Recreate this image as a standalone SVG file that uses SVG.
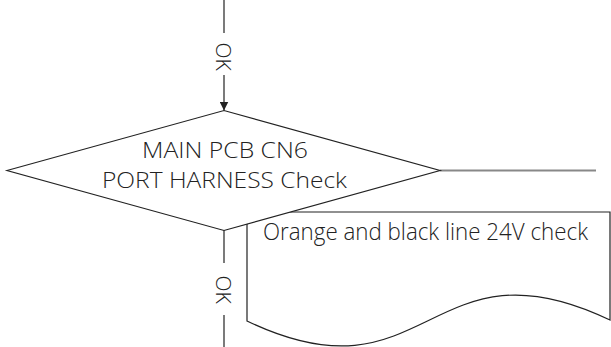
<svg xmlns="http://www.w3.org/2000/svg" width="611" height="347" viewBox="0 0 611 347">
<style>
.ln{stroke:#222;stroke-width:1.2;fill:none}
.shape{stroke:#222;stroke-width:1.2;fill:#fff}
.t{font-family:"Open Sans","Noto Sans",sans-serif;font-weight:300;fill:#222}
</style>
<defs>
<marker id="ah" viewBox="0 0 10 10" refX="10" refY="5" markerWidth="9" markerHeight="9" markerUnits="userSpaceOnUse" orient="auto">
<path d="M0,0 L10,5 L0,10 z" fill="#222"/>
</marker>
</defs>
<g id="connectors">
<line class="ln" x1="224" y1="0" x2="224" y2="33"/>
<line class="ln" x1="224" y1="75" x2="224" y2="110.5" marker-end="url(#ah)"/>
<text class="t" font-size="21" text-anchor="middle" transform="translate(216,56.5) rotate(90)">OK</text>
<line class="ln" x1="224" y1="230" x2="224" y2="263"/>
<line class="ln" x1="224" y1="315" x2="224" y2="347"/>
<text class="t" font-size="21" text-anchor="middle" transform="translate(216,289.5) rotate(90)">OK</text>
<line x1="440" y1="170.5" x2="596" y2="170.5" stroke="#888" stroke-width="2"/>
</g>
<g id="doc">
<path class="shape" d="M247,212 L610,212 L610,320 C428.5,233 428.5,408 247,321 Z"/>
<text class="t" font-size="23" x="263" y="240" textLength="325" lengthAdjust="spacingAndGlyphs">Orange and black line 24V check</text>
</g>
<g id="decision">
<polygon class="shape" points="7,170.5 224,110.5 440,170.5 224,230.5"/>
<text class="t" font-size="22" text-anchor="middle" x="225" y="157.5" textLength="166" lengthAdjust="spacingAndGlyphs">MAIN PCB CN6</text>
<text class="t" font-size="22" text-anchor="middle" x="224.5" y="187.5" textLength="245" lengthAdjust="spacingAndGlyphs">PORT HARNESS Check</text>
</g>
</svg>
